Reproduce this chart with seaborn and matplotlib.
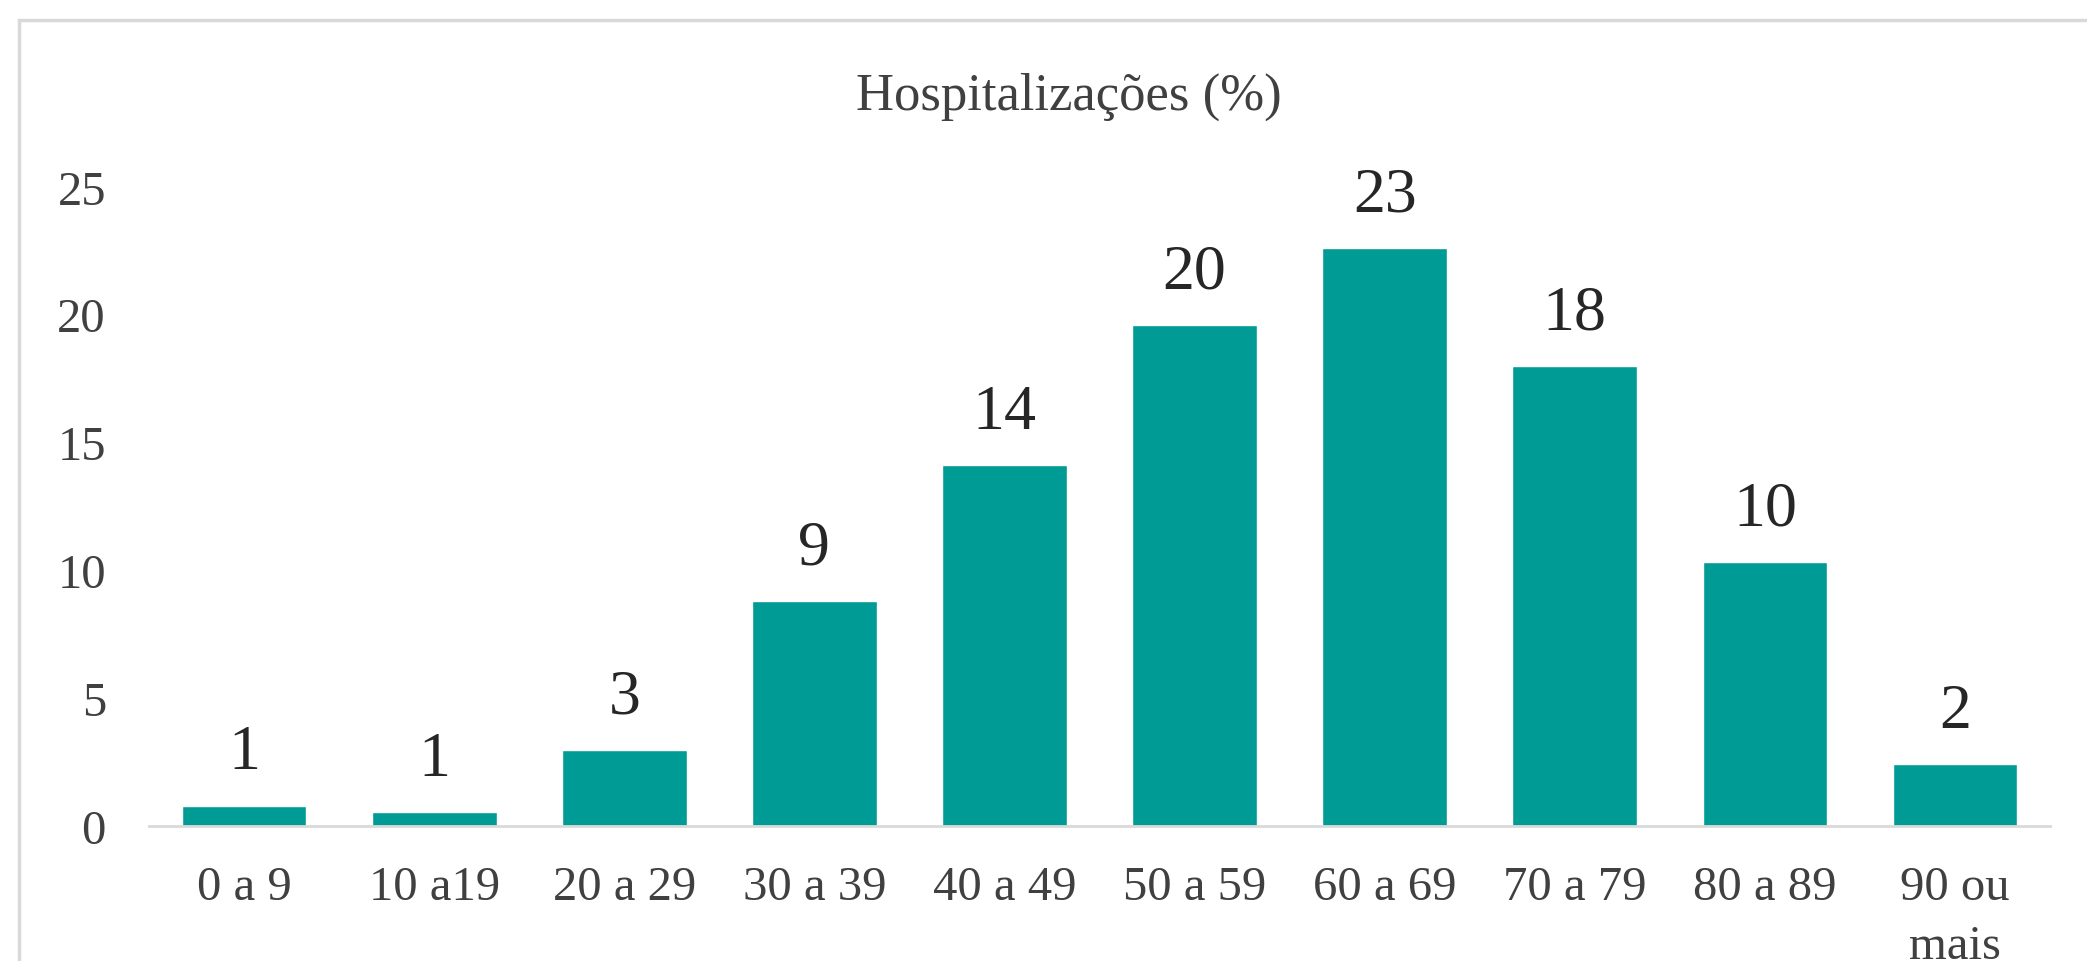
import matplotlib
matplotlib.use("Agg")
import matplotlib.pyplot as plt
import seaborn as sns
from matplotlib.patches import Rectangle

# data
faixas = ["0 a 9", "10 a19", "20 a 29", "30 a 39", "40 a 49",
          "50 a 59", "60 a 69", "70 a 79", "80 a 89", "90 ou\nmais"]
valores = [0.78, 0.52, 2.97, 8.8, 14.1, 19.6, 22.6, 18.0, 10.3, 2.4]
rotulos = ["1", "1", "3", "9", "14", "20", "23", "18", "10", "2"]
yticks = [0, 5, 10, 15, 20, 25]

sns.set_style("white")
plt.rcParams['font.family'] = ['Liberation Serif', 'DejaVu Serif']

fig = plt.figure(figsize=(20.87, 9.62), dpi=100)
ax = fig.add_axes([0.0714, 0.1407, 0.9109, 0.6642])

sns.barplot(x=faixas, y=valores, color="#009B94", saturation=1,
            width=0.656, ax=ax)

ax.set_xlim(-0.5, 9.5)
ax.set_ylim(0, 25)
ax.set_yticks(yticks)
ax.set_yticklabels([str(t) for t in yticks])

for p, txt in zip(ax.patches, rotulos):
    ax.annotate(txt, (p.get_x() + p.get_width() / 2, p.get_height()),
                xytext=(0, 27), textcoords="offset points",
                ha="center", va="baseline", fontsize=46, color="#262626")

for s in ["top", "right", "left"]:
    ax.spines[s].set_visible(False)
ax.spines["bottom"].set_color("#D9D9D9")
ax.spines["bottom"].set_linewidth(2)

ax.tick_params(axis="both", length=0, labelsize=35, colors="#404040")
ax.tick_params(axis="y", pad=31)
ax.tick_params(axis="x", pad=28)
for lab in ax.get_xticklabels():
    lab.set_linespacing(1.45)
ax.set_xlabel("")
ax.set_ylabel("")

fig.text(0.512, 0.899, "Hospitalizações (%)", ha="center", va="center",
         fontsize=38, color="#404040")

# outer chart frame (cut off at right and bottom in the reference)
fig.patches.append(Rectangle((19 / 2087, -0.1), 1.2, 1.1 - 21 / 962,
                             transform=fig.transFigure, fill=False,
                             edgecolor="#D9D9D9", linewidth=2.5, clip_on=False))

fig.savefig("out.png", dpi=100)
